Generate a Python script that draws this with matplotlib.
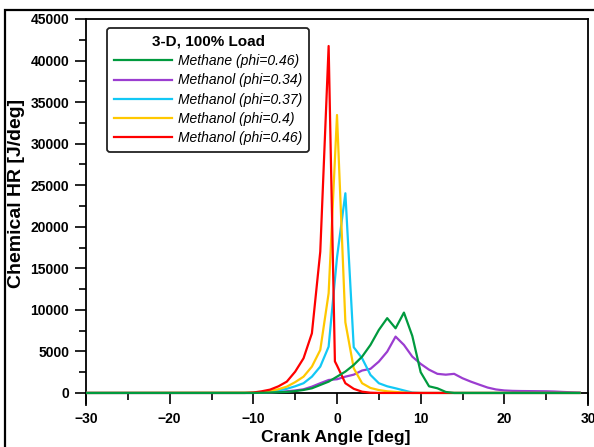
import matplotlib.pyplot as plt
from matplotlib.patches import Rectangle
from matplotlib.ticker import MultipleLocator

plt.rcParams['font.family'] = ['Liberation Sans', 'DejaVu Sans']

# crank angle [deg] / chemical heat release [J/deg]
methane_x = [-30, -10, -9, -8, -7, -6, -5, -4, -3, -2, -1, 0, 1, 2, 3, 4, 5, 6, 7, 8, 9, 10, 11, 12, 13, 14, 29]
methane_y = [0, 0, 20, 50, 80, 120, 220, 360, 560, 960, 1360, 1960, 2570, 3370, 4370, 5780, 7580, 9000,
             7780, 9670, 6860, 2500, 800, 560, 120, 0, 0]

meoh34_x = [-30, -10, -8, -6, -5, -4, -3, -2, -1, 0, 1, 2, 3, 4, 5, 6, 7, 8, 9, 10, 11, 12, 13, 14, 15,
            16, 17, 18, 19, 20, 21, 22, 23, 24, 25, 26, 27, 28, 29]
meoh34_y = [0, 0, 50, 200, 300, 440, 760, 1170, 1560, 1650, 1960, 2200, 2700, 2900, 3770, 4970, 6780, 5780,
            4370, 3500, 2800, 2300, 2200, 2300, 1770, 1360, 1000, 650, 420, 300, 250, 230, 220, 210, 200,
            170, 120, 80, 40]

meoh37_x = [-30, -10, -9, -8, -7, -6, -5, -4, -3, -2, -1, 0, 1, 2, 3, 4, 5, 6, 7, 8, 9, 10, 29]
meoh37_y = [0, 20, 60, 150, 300, 500, 800, 1170, 1960, 3170, 5570, 16300, 24030, 5500, 4170, 2170, 1170,
            800, 560, 300, 50, 0, 0]

meoh40_x = [-30, -10, -9, -8, -7, -6, -5, -4, -3, -2, -1, 0, 1, 2, 3, 4, 5, 6, 7, 8, 9, 29]
meoh40_y = [0, 30, 100, 250, 450, 760, 1300, 1960, 3170, 5170, 12000, 33450, 8500, 2970, 1170, 600, 350,
            200, 120, 50, 0, 0]

meoh46_x = [-30, -11, -10, -9, -8, -7, -6, -5, -4, -3, -2, -1, -0.25, 0, 1, 2, 3, 4, 5, 29]
meoh46_y = [0, 0, 50, 200, 400, 800, 1360, 2560, 4170, 7180, 17000, 41750, 3800, 3300, 1170, 500, 150, 30,
            0, 0]

series = [
    (methane_x, methane_y, 'Methane (phi=0.46)', '#009a3e'),
    (meoh34_x, meoh34_y, 'Methanol (phi=0.34)', '#9b3dd0'),
    (meoh37_x, meoh37_y, 'Methanol (phi=0.37)', '#12c8f5'),
    (meoh40_x, meoh40_y, 'Methanol (phi=0.4)', '#ffc800'),
    (meoh46_x, meoh46_y, 'Methanol (phi=0.46)', '#ff0000'),
]

fig = plt.figure(figsize=(5.94, 4.47), dpi=100)
ax = fig.add_axes([86 / 594, 1 - 405 / 447, 502 / 594, 386 / 447])

# green drawn last so it sits on top along the zero line
order = [1, 2, 3, 4, 0]
lines = {}
for i in order:
    x, y, lab, col = series[i]
    lines[i], = ax.plot(x, y, color=col, lw=1.6, label=lab, zorder=3 if i else 4)

ax.set_xlim(-30, 30)
ax.set_ylim(-1450, 45000)
ax.spines['bottom'].set_position(('data', 0))
for s in ax.spines.values():
    s.set_linewidth(1.3)

ax.xaxis.set_major_locator(MultipleLocator(10))
ax.xaxis.set_minor_locator(MultipleLocator(5))
ax.yaxis.set_major_locator(MultipleLocator(5000))
ax.yaxis.set_minor_locator(MultipleLocator(2500))
ax.tick_params(which='both', direction='out', width=1.2, labelsize=10)
ax.tick_params(which='major', length=8, pad=4)
ax.tick_params(axis='x', which='major', pad=6)
ax.tick_params(which='minor', length=5)
for t in ax.get_xticklabels() + ax.get_yticklabels():
    t.set_fontweight('bold')

ax.set_xlabel('Crank Angle [deg]', fontsize=12.5, fontweight='bold', va='center')
ax.set_ylabel('Chemical HR [J/deg]', fontsize=14, fontweight='bold', va='center')
ax.xaxis.set_label_coords(0.497, -0.083)
ax.yaxis.set_label_coords(-0.138, 0.549)

leg = ax.legend([lines[i] for i in range(5)], [s[2] for s in series],
                title='3-D, 100% Load', loc='upper left', bbox_to_anchor=(0.042, 0.977),
                borderaxespad=0, fancybox=True, framealpha=1, edgecolor='#222222',
                handlelength=4.2, handletextpad=0.4, labelspacing=0.38, borderpad=0.5,
                prop={'style': 'italic', 'size': 10})
leg.get_title().set_fontweight('bold')
leg.get_title().set_fontsize(11)
leg.get_frame().set_linewidth(1.3)

# outer frame around the figure (cropped on the right/bottom)
fig.patches.append(Rectangle((5 / 594, -0.2), 1.2, 1.2 - 10 / 447, transform=fig.transFigure,
                             fill=False, edgecolor='black', lw=1.6))

fig.savefig('out.png', dpi=100)
